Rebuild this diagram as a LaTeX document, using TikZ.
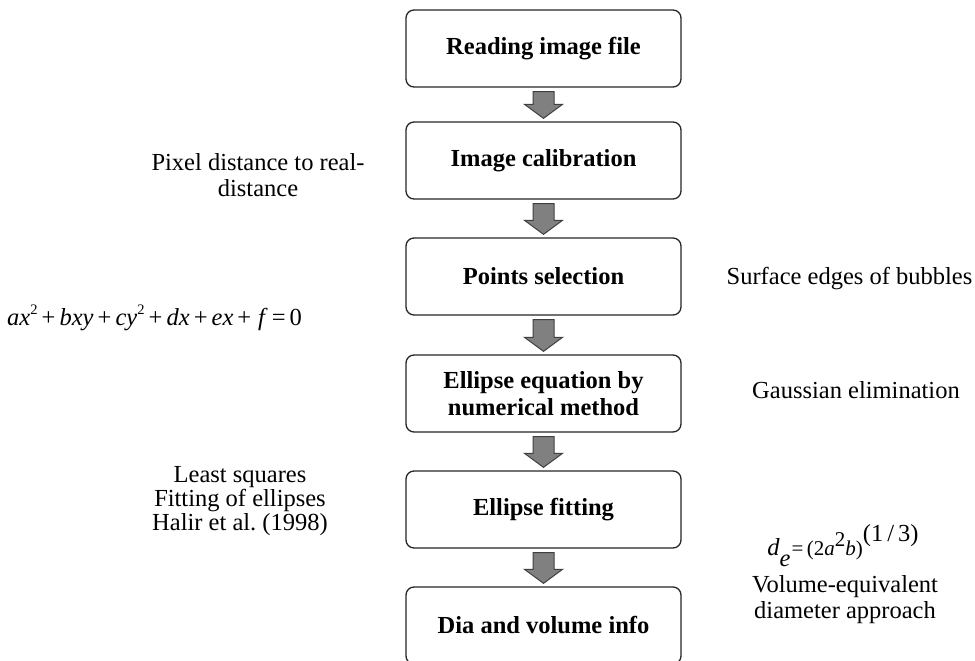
\documentclass[tikz,border=0pt]{standalone}
\usepackage{fontspec}
\setmainfont{Liberation Serif}
\usetikzlibrary{calc}
\frenchspacing
\newcommand{\supr}[1]{\raisebox{0.42em}{\fontsize{14.5}{14.5}\selectfont #1}}
\newcommand{\flowarrow}[2]{%
  \path[blockarrow] let \p1=(#1.south), \p2=(#2.north) in
    (\x1-10.5pt,\y1-4pt) -- (\x1+10.5pt,\y1-4pt) -- (\x1+10.5pt,\y2+17pt) --
    (\x1+19pt,\y2+17pt) -- (\x1,\y2+3pt) -- (\x1-19pt,\y2+17pt) --
    (\x1-10.5pt,\y2+17pt) -- cycle;}
\begin{document}
\begin{tikzpicture}[x=1pt,y=-1pt,
  every node/.style={font=\fontsize{24.5}{27.5}\selectfont, inner sep=0pt},
  stepbox/.style={draw=black!85, line width=1.3pt, rounded corners=8pt,
    minimum width=275pt, minimum height=77pt,
    font=\fontsize{24.5}{27.5}\selectfont\bfseries, align=center, fill=white},
  blockarrow/.style={fill=black!50, draw=black!75, line width=1pt, line join=miter},
  note/.style={align=center}]
\useasboundingbox (0,0) rectangle (975,661);
\clip (0,0) rectangle (975,661);
\node[stepbox] (s1) at (543.5,48.5) {Reading image file};
\node[stepbox] (s2) at (543.5,160.5) {Image calibration};
\node[stepbox] (s3) at (543.5,276.5) {Points selection};
\node[stepbox] (s4) at (543.5,393.5) {Ellipse equation by\\numerical method};
\node[stepbox] (s5) at (543.5,509.5) {Ellipse fitting};
\node[stepbox] (s6) at (543.5,625.5) {Dia and volume info};
\flowarrow{s1}{s2}
\flowarrow{s2}{s3}
\flowarrow{s3}{s4}
\flowarrow{s4}{s5}
\flowarrow{s5}{s6}
\node[note, font=\fontsize{24.5}{25.5}\selectfont] (pix) at (258,175) {Pixel distance to real-\\distance};
\node[anchor=base] (surf) at (849.5,284) {Surface edges of bubbles};
\node[anchor=base west] (eq) at (7,325) {\textit{ax}\supr{2}\,+\,\textit{bxy}\,+\,\textit{cy}\supr{2}\,+\,\textit{dx}\,+\,\textit{ex}\,+\;\textit{f}\,=\,0};
\node[anchor=base] (gauss) at (856,398) {Gaussian elimination};
\node[note, font=\fontsize{24.5}{24}\selectfont] (lsq) at (240,501) {Least squares\\Fitting of ellipses\\Halir et al.\ (1998)};
\node[anchor=base] (de) at (843,555) {\textit{d}\raisebox{-0.45em}{\textit{e}}\hspace{1pt}{\fontsize{21}{21}\selectfont =\,(2\textit{a}\raisebox{0.4em}{\fontsize{21}{21}\selectfont 2}\textit{b})}\raisebox{0.55em}{(1\,/\,3)}};
\node[note, font=\fontsize{24.5}{26}\selectfont] (vol) at (845,600) {Volume-equivalent\\diameter approach};
\end{tikzpicture}
\end{document}
